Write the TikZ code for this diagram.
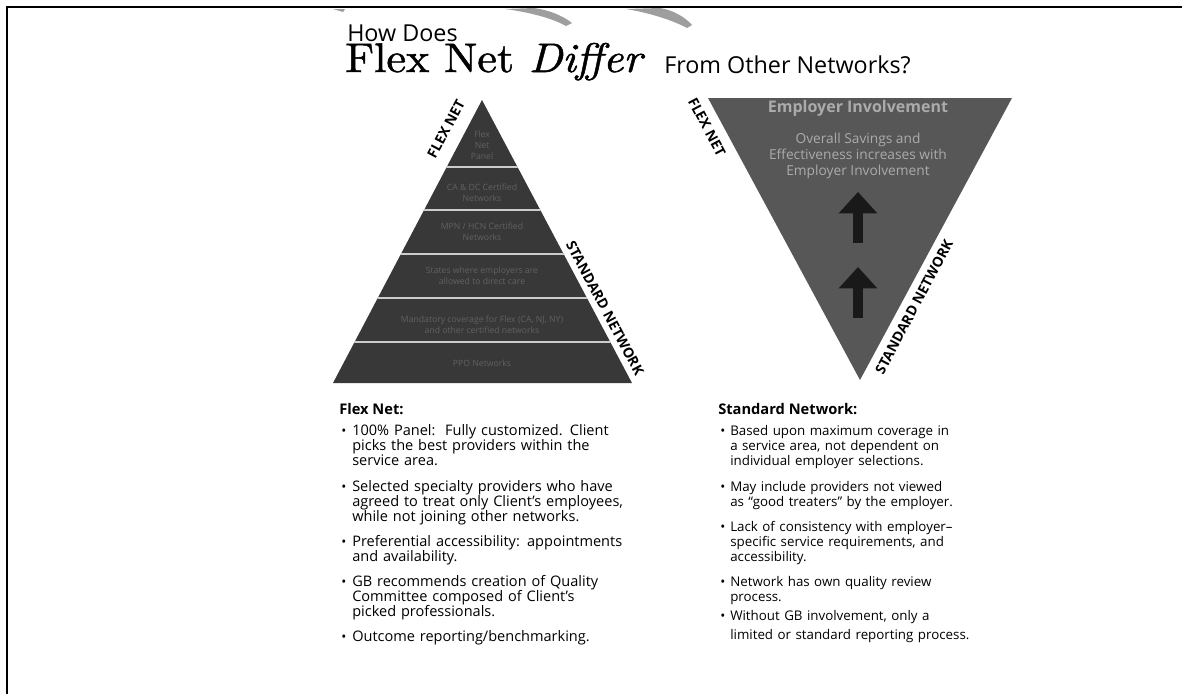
\documentclass[tikz,border=0pt]{standalone}
\usepackage{fontspec}
\setsansfont{Open Sans}
\newfontfamily\titlefont{lmroman10-regular.otf}[ItalicFont=lmroman10-italic.otf, FakeBold=1.2]
\usepackage{tikz}
\usetikzlibrary{arrows.meta}

\begin{document}
\begin{tikzpicture}[x=0.75pt, y=-0.75pt]
  \tikzstyle{every node}=[font=\sffamily, inner sep=0pt]
  \tikzstyle{title}=[anchor=base west, font=\sffamily\fontsize{17.5}{20}\selectfont]
  \tikzstyle{bigtitle}=[anchor=base west, xscale=1.07, font=\titlefont\fontsize{31}{34}\selectfont]
  \tikzstyle{edgelabel}=[font=\sffamily\bfseries\fontsize{10.5}{12}\selectfont]
  \tikzstyle{tier}=[align=center, text=black!62, font=\sffamily\fontsize{6.5}{8.2}\selectfont]
  \tikzstyle{tierline}=[line width=1.5pt, black!20]
  \tikzstyle{inner}=[align=center, text=black!33, font=\sffamily\fontsize{10.3}{12}\selectfont]
  \tikzstyle{heading}=[anchor=base west, font=\sffamily\bfseries\fontsize{11}{13}\selectfont]
  \tikzstyle{bullet}=[anchor=base west, font=\sffamily\fontsize{10}{11.6}\selectfont]
  \tikzstyle{para}=[anchor=base west, text width=8cm, align=left, font=\sffamily\fontsize{10}{11.6}\selectfont]
  \tikzstyle{wide}=[font=\sffamily\fontsize{10.9}{11.6}\selectfont]
  \tikzstyle{bigarrow}=[line width=7.5pt, black!90, -{Triangle[width=28pt, length=16pt]}]
  \tikzstyle{swoosh}=[fill=black!38]

  \useasboundingbox (0,0) rectangle (1182,694);
  \draw[line width=1.5pt] (7,694) -- (7,7) -- (1182,7);

  % bits of the logo cut off at the top
  \fill[swoosh] (333,9) -- (345,9) -- (343,12) -- cycle;
  \fill[swoosh] (505,9) .. controls (528,12) and (552,18) .. (566,26) -- (572,23) .. controls (562,15) and (548,10) .. (534,8) -- cycle;
  \fill[swoosh] (626,9) .. controls (650,13) and (672,20) .. (687,28) -- (692,25) .. controls (684,16) and (672,10) .. (660,8) -- cycle;

  % title
  \node[title] (how) at (347,41) {How Does};
  \node[bigtitle] (flexnet) at (345,72) {Flex Net \textit{Differ}};
  \node[title] (from) at (664,73) {From Other Networks?};

  % left pyramid
  \fill[black!78] (333,383) -- (482,100) -- (632,383) -- cycle;
  \begin{scope}
    \clip (333,383) -- (482,100) -- (632,383) -- cycle;
    \foreach \y in {167,210,254,298,342}
      \draw[tierline] (320,\y) -- (650,\y);
  \end{scope}
  \node[tier] (t1) at (482,145) {Flex\\Net\\Panel};
  \node[tier] (t2) at (482,193) {CA \& DC Certified\\Networks};
  \node[tier] (t3) at (482,232) {MPN / HCN Certified\\Networks};
  \node[tier] (t4) at (482,276) {States where employers are\\allowed to direct care};
  \node[tier] (t5) at (482,325) {Mandatory coverage for Flex (CA, NJ, NY)\\and other certified networks};
  \node[tier] (t6) at (482,363) {PPO Networks};
  \node[edgelabel, rotate=62] (lflex) at (446,129) {FLEX NET};
  \node[edgelabel, rotate=-62] (lstd) at (605,308) {STANDARD NETWORK};

  % right triangle, upside down
  \fill[black!66] (708,98) -- (1012,98) -- (860,380) -- cycle;
  \node[inner, font=\sffamily\bfseries\fontsize{12}{14}\selectfont] (inv) at (858,108) {Employer Involvement};
  \node[inner] (save) at (858,156) {Overall Savings and\\Effectiveness increases with\\Employer Involvement};
  \draw[bigarrow] (858,243) -- (858,192);
  \draw[bigarrow] (858,318) -- (858,267);
  \node[edgelabel, rotate=-62] (rflex) at (707,127) {FLEX NET};
  \node[edgelabel, rotate=62] (rstd) at (914,307) {STANDARD NETWORK};

  % Flex Net column
  \node[heading] (flexhead) at (339,414) {Flex Net:};
  \foreach \y in {435,491,546,586,641}
    \node[bullet] at (341,\y) {•};
  \node[para, wide] (f1) at (352,435) {100\% Panel:\ \ Fully customized. Client\\picks the best providers within the\\service area.};
  \node[para, wide] (f2) at (352,491) {Selected specialty providers who have\\agreed to treat only Client’s employees,\\while not joining other networks.};
  \node[para, wide] (f3) at (352,546) {Preferential accessibility: appointments\\and availability.};
  \node[para, wide] (f4) at (352,586) {GB recommends creation of Quality\\Committee composed of Client’s\\picked professionals.};
  \node[para, wide] (f5) at (352,641) {Outcome reporting/benchmarking.};

  % Standard Network column
  \node[heading] (stdhead) at (718,414) {Standard Network:};
  \foreach \y in {435,491,531,586,620}
    \node[bullet] at (720,\y) {•};
  \node[para] (s1) at (730,435) {Based upon maximum coverage in\\a service area, not dependent on\\individual employer selections.};
  \node[para] (s2) at (730,491) {May include providers not viewed\\as “good treaters” by the employer.};
  \node[para] (s3) at (730,531) {Lack of consistency with employer–\\specific service requirements, and\\accessibility.};
  \node[para] (s4) at (730,586) {Network has own quality review\\process.};
  \node[para] (s5) at (730,620) {Without GB involvement, only a\\[3pt]limited or standard reporting process.};
\end{tikzpicture}
\end{document}
